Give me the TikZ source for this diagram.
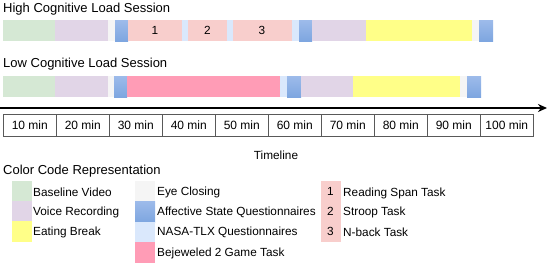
\documentclass[tikz,border=0pt]{standalone}
\usepackage{fontspec}
\setmainfont{Liberation Sans}
\usetikzlibrary{arrows.meta}
\definecolor{cgreen}{HTML}{D5E8D4}
\definecolor{cpurple}{HTML}{E1D5E7}
\definecolor{cyellow}{HTML}{FFFF88}
\definecolor{ceye}{HTML}{F5F5F5}
\definecolor{caff}{HTML}{7EA6E0}
\definecolor{cafftop}{HTML}{9DBBEA}
\definecolor{cnasa}{HTML}{DAE8FC}
\definecolor{ctask}{HTML}{F8CECC}
\definecolor{cbej}{HTML}{FF9CB6}
\begin{document}
\begin{tikzpicture}[x=1pt,y=-1pt,
  aff/.style={top color=cafftop,bottom color=caff,draw=none},
  tbox/.style={draw=black!65,line width=0.6pt,minimum width=53pt,minimum height=22pt,inner sep=0pt,font=\fontsize{12}{14}\selectfont,anchor=north west},
  ttl/.style={anchor=west,inner sep=0pt,font=\fontsize{13}{15}\selectfont},
  lgd/.style={anchor=west,inner sep=0pt,font=\fontsize{11.8}{14}\selectfont},
  num/.style={inner sep=0pt,font=\fontsize{11.8}{14}\selectfont}]
\useasboundingbox (0,0) rectangle (550,265);
% titles
\node[ttl] (thigh) at (3,9) {High Cognitive Load Session};
\node[ttl] (tlow) at (3,64) {Low Cognitive Load Session};
% high bar
\fill[cgreen] (3,20) rectangle (55,41);
\fill[cpurple] (55,20) rectangle (108,41);
\fill[ceye] (108,20) rectangle (115,41);
\shade[aff] (115,20) rectangle (128,41);
\fill[ctask] (128,20) rectangle (182,41);
\fill[cnasa] (182,20) rectangle (188,41);
\fill[ctask] (188,20) rectangle (227,41);
\fill[cnasa] (227,20) rectangle (233,41);
\fill[ctask] (233,20) rectangle (292,41);
\fill[cnasa] (292,20) rectangle (299,41);
\shade[aff] (299,20) rectangle (312,41);
\fill[cpurple] (312,20) rectangle (366,41);
\fill[cyellow] (366,20) rectangle (472,41);
\fill[ceye] (472,20) rectangle (479,41);
\shade[aff] (479,20) rectangle (493,41);
\node[num] (h1) at (155,30.5) {1};
\node[num] (h2) at (207.5,30.5) {2};
\node[num] (h3) at (262,30.5) {3};
% low bar
\fill[cgreen] (3,76) rectangle (55,97);
\fill[cpurple] (55,76) rectangle (108,97);
\fill[ceye] (108,76) rectangle (114,97);
\shade[aff] (114,76) rectangle (127,97);
\fill[cbej] (127,76) rectangle (280,97);
\fill[cnasa] (280,76) rectangle (287,97);
\shade[aff] (287,76) rectangle (301,97);
\fill[cpurple] (301,76) rectangle (353,97);
\fill[cyellow] (353,76) rectangle (460,97);
\fill[ceye] (460,76) rectangle (467,97);
\shade[aff] (467,76) rectangle (481,97);
% timeline arrow
\coordinate (as) at (0,108);
\coordinate (ae) at (547,108);
\draw[line width=1.6pt,-{Stealth[length=9pt,width=8pt]}] (as) -- (ae);
% time boxes
\foreach \i [count=\k from 0] in {10,20,30,40,50,60,70,80,90,100} {
  \node[tbox] (b\i) at ({3+53*\k},114) {\i\ min};
}
\node[lgd,anchor=center] (tl) at (276,155) {Timeline};
% legend
\node[ttl] (cc) at (3,171) {Color Code Representation};
\fill[cgreen] (12,181) rectangle (32,201);
\fill[cpurple] (12,201) rectangle (32,221);
\fill[cyellow] (12,221) rectangle (32,242);
\node[lgd] (l1) at (33,192) {Baseline Video};
\node[lgd] (l2) at (33,212) {Voice Recording};
\node[lgd] (l3) at (33,232) {Eating Break};
\fill[ceye] (135,181) rectangle (155,201);
\shade[aff] (135,201) rectangle (155,222);
\fill[cnasa] (135,222) rectangle (155,242);
\fill[cbej] (135,242) rectangle (155,263);
\node[lgd] (l4) at (157,192) {Eye Closing};
\node[lgd] (l5) at (157,212) {Affective State Questionnaires};
\node[lgd] (l6) at (157,232) {NASA-TLX Questionnaires};
\node[lgd] (l7) at (157,253) {Bejeweled 2 Game Task};
\fill[ctask] (321,181) rectangle (341,242);
\node[num] (n1) at (330.5,191) {1};
\node[num] (n2) at (330.5,211) {2};
\node[num] (n3) at (330.5,231) {3};
\node[lgd] (l8) at (343,193) {Reading Span Task};
\node[lgd] (l9) at (343,212) {Stroop Task};
\node[lgd] (l10) at (343,232) {N-back Task};
\end{tikzpicture}
\end{document}
